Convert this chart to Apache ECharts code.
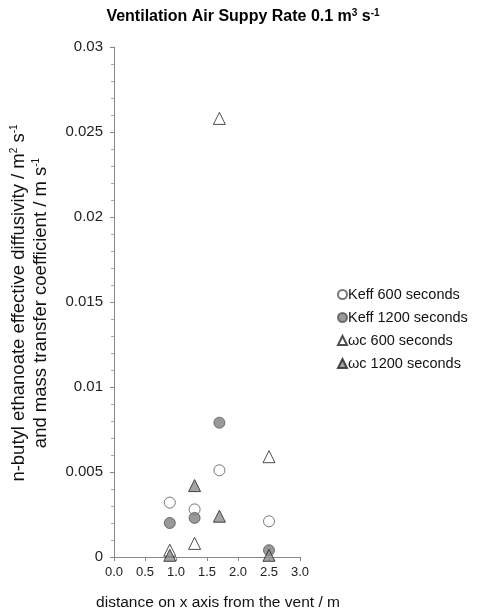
<!DOCTYPE html>
<html>
<head>
<meta charset="utf-8">
<script src="https://cdn.jsdelivr.net/npm/echarts@6/dist/echarts.min.js"></script>
<style>
html, body { margin: 0; padding: 0; background: #fff; }
#chart { width: 479px; height: 616px; }
</style>
</head>
<body>
<div id="chart"></div>
<script>
// 数据 (distance / m, value)
var keff600 = [[0.9, 0.0032], [1.3, 0.0028], [1.7, 0.0051], [2.5, 0.0021]];
var keff1200 = [[0.9, 0.0020], [1.3, 0.0023], [1.7, 0.0079], [2.5, 0.0004]];
var wc600 = [[0.9, 0.0004], [1.3, 0.0008], [1.7, 0.0258], [2.5, 0.0059]];
var wc1200 = [[0.9, 0.0001], [1.3, 0.0042], [1.7, 0.0024], [2.5, 0.0001]];
var seriesNames = ['Keff 600 seconds', 'Keff 1200 seconds', '\u03c9c 600 seconds', '\u03c9c 1200 seconds'];

var myChart = echarts.init(document.getElementById('chart'));
var font = 'Liberation Sans, Arial, sans-serif';

function makeSeries(name, data, symbol, fill, border) {
    return {
        name: name,
        type: 'scatter',
        data: data,
        symbol: symbol,
        symbolSize: symbol === 'circle' ? 11 : 12,
        itemStyle: { color: fill, borderColor: border, borderWidth: 1 }
    };
}

var supStyle = { fontSize: 10, verticalAlign: 'top', padding: [0, 0, 8, 0] };

var option = {
    backgroundColor: '#fff',
    animation: false,
    textStyle: { fontFamily: font },
    title: {
        text: '{b|Ventilation Air Suppy Rate 0.1 m}{s|3}{b| s}{s|-1}',
        left: 238,
        textAlign: 'center',
        top: 3,
        textStyle: {
            rich: {
                b: { fontSize: 16, fontWeight: 'bold', color: '#000', fontFamily: font },
                s: { fontSize: 10, fontWeight: 'bold', color: '#000', fontFamily: font, verticalAlign: 'top', padding: [0, 0, 8, 0] }
            }
        }
    },
    grid: { left: 114, top: 47, width: 186, height: 510 },
    xAxis: {
        type: 'value',
        min: 0, max: 3, interval: 0.5,
        name: 'distance on x axis from the vent / m',
        nameLocation: 'middle',
        nameGap: 38,
        nameTextStyle: { fontSize: 15.5, color: '#111', padding: [0, 0, 0, 22] },
        axisLine: { lineStyle: { color: '#888' } },
        axisTick: { show: true, length: 4, lineStyle: { color: '#888' } },
        axisLabel: { fontSize: 13, color: '#222', margin: 9, formatter: function (v) { return v.toFixed(1); } },
        splitLine: { show: false }
    },
    yAxis: {
        type: 'value',
        min: 0, max: 0.03, interval: 0.005,
        axisLine: { show: true, lineStyle: { color: '#888' } },
        axisTick: { show: true, length: 4, lineStyle: { color: '#888' } },
        minorTick: { show: true, splitNumber: 5, length: 3, lineStyle: { color: '#aaa' } },
        axisLabel: { fontSize: 15, color: '#222', margin: 11 },
        splitLine: { show: false }
    },
    legend: {
        orient: 'vertical',
        left: 332,
        top: 282,
        itemGap: 8,
        itemWidth: 9,
        itemHeight: 9,
        textStyle: { fontSize: 14.5, color: '#111', padding: [0, 0, 0, -4] },
        data: seriesNames
    },
    graphic: [
        {
            type: 'text',
            x: 19, y: 303,
            rotation: Math.PI / 2,
            style: {
                text: 'n-butyl ethanoate effective diffusivity / m{s|2} s{s|-1}',
                font: '18.5px ' + font,
                fill: '#111',
                align: 'center',
                verticalAlign: 'middle',
                rich: { s: supStyle }
            }
        },
        {
            type: 'text',
            x: 41, y: 303,
            rotation: Math.PI / 2,
            style: {
                text: 'and mass transfer coefficient / m s{s|-1}',
                font: '18.5px ' + font,
                fill: '#111',
                align: 'center',
                verticalAlign: 'middle',
                rich: { s: supStyle }
            }
        }
    ],
    series: [
        makeSeries(seriesNames[0], keff600, 'circle', '#fff', '#555'),
        makeSeries(seriesNames[1], keff1200, 'circle', '#808080', '#555'),
        makeSeries(seriesNames[2], wc600, 'triangle', '#fff', '#222'),
        makeSeries(seriesNames[3], wc1200, 'triangle', '#8c8c8c', '#222')
    ]
};

myChart.setOption(option, true);
</script>
</body>
</html>
